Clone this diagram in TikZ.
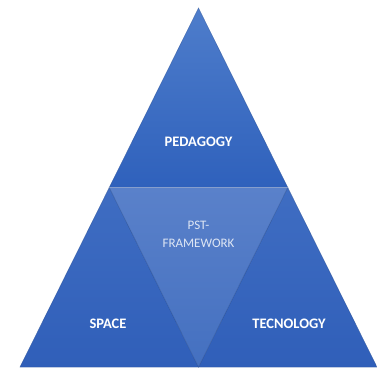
\documentclass[tikz,border=0pt]{standalone}
\usepackage{fontspec}
\setmainfont{Carlito}
\usetikzlibrary{positioning}

\definecolor{topA}{HTML}{4E7DCB}
\definecolor{topB}{HTML}{2F61BC}
\definecolor{midA}{HTML}{5A81CA}
\definecolor{midB}{HTML}{4470C0}
\definecolor{sideA}{HTML}{3F6DC2}
\definecolor{sideB}{HTML}{305FB9}
\definecolor{edgeC}{HTML}{2A4F94}

\begin{document}
\begin{tikzpicture}[
        x=1pt, y=1pt,
        part/.style={draw=edgeC, line width=0.5pt, draw opacity=0.55},
        tag/.style={text=white, font=\fontsize{14.5}{17}\selectfont\bfseries, align=center},
        soft/.style={text=white!80!midA, font=\fontsize{13}{18}\selectfont, align=center},
      ]
      \useasboundingbox (0,0) rectangle (377,367);
      % corners of the big triangle and the midpoints of its sides
      \coordinate (apex) at (198.5,359);
      \coordinate (left) at (20,0);
      \coordinate (right) at (377,0);
      \coordinate (midL) at (109.25,179.5);
      \coordinate (midR) at (287.75,179.5);
      \coordinate (midB) at (198.5,0);
      % the four parts
      \shade [part, top color=topA, bottom color=topB] (apex) -- (midL) -- (midR) -- cycle;
      \shade [part, top color=sideA, bottom color=sideB] (midL) -- (left) -- (midB) -- cycle;
      \shade [part, top color=sideA, bottom color=sideB] (midR) -- (midB) -- (right) -- cycle;
      \shade [part, top color=midA, bottom color=midB] (midL) -- (midR) -- (midB) -- cycle;
      \draw [white, opacity=0.3, line width=0.8pt] (midL) -- (midR);
      % labels
      \node [tag] (pedagogy) at (198.5,225) {PEDAGOGY};
      \node [soft] (pst) at (198.5,133) {PST-\\FRAMEWORK};
      \node [tag] (space) at (108,43) {SPACE};
      \node [tag] (tecnology) at (289,43) {TECNOLOGY};
    \end{tikzpicture}
\end{document}
